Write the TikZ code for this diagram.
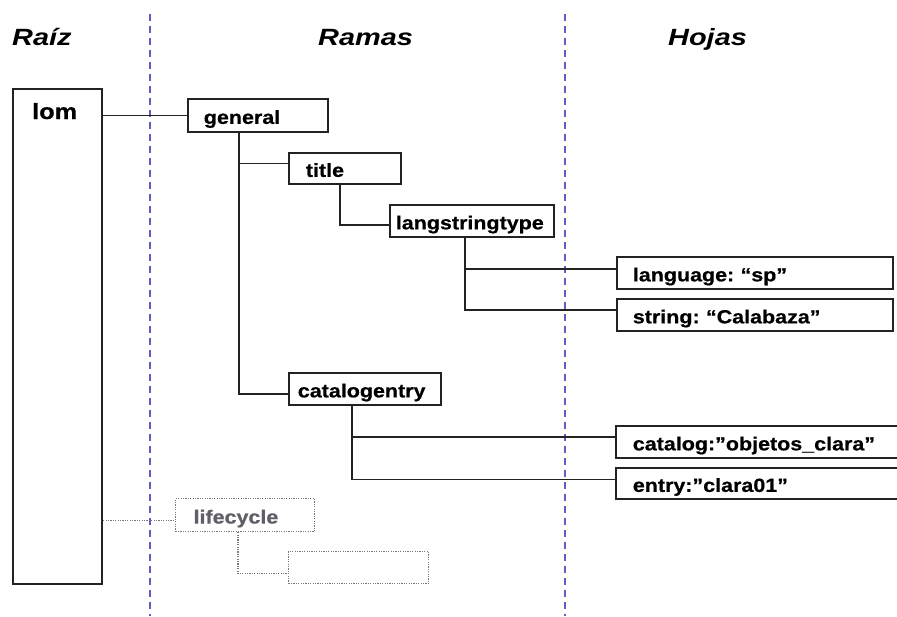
\documentclass[tikz,border=0pt]{standalone}
\usepackage{fontspec}
\setmainfont{Liberation Sans}
\newfontfamily\boxfont[FakeStretch=1.13, BoldFeatures={FakeBold=0.6}]{Liberation Sans}
\newfontfamily\rootfont[FakeStretch=1.15, BoldFeatures={FakeBold=0.6}]{Liberation Sans}
\newfontfamily\headfont[FakeStretch=1.23]{Liberation Sans}
\frenchspacing
\definecolor{divider}{RGB}{95,95,195}
\definecolor{linecol}{RGB}{35,35,35}
\definecolor{ghost}{RGB}{120,120,125}
\definecolor{ghosttext}{RGB}{95,95,105}
\tikzset{
  heading/.style={anchor=base west, inner sep=0pt, font=\headfont\fontsize{23.5}{26}\selectfont\bfseries\itshape},
  tag/.style={draw=linecol, line width=1.7pt, rectangle, anchor=north west, align=left,
    font=\boxfont\fontsize{19}{21}\selectfont\bfseries, text height=19pt, text depth=2pt, inner ysep=0pt},
  ghostbox/.style={tag, draw=ghost, line width=1.1pt, dash pattern=on 1.2pt off 1.2pt, text=ghosttext},
  link/.style={draw=linecol, line width=1.7pt},
  ghostlink/.style={draw=ghost, line width=1.1pt, dash pattern=on 1.2pt off 1.2pt},
  divline/.style={draw=divider, line width=1.5pt, dash pattern=on 7pt off 5pt}
}
\begin{document}
\begin{tikzpicture}[x=1pt,y=-1pt]
\useasboundingbox (0,0) rectangle (897,616);
\clip (0,0) rectangle (897,616);
\fill[white] (0,0) rectangle (897,616);

% column dividers
\coordinate (d1t) at (150,14);
\coordinate (d1b) at (150,616);
\coordinate (d2t) at (565,14);
\coordinate (d2b) at (565,616);
\draw[divline] (d1t) -- (d1b);
\draw[divline] (d2t) -- (d2b);

% column headings
\node[heading] (hraiz) at (12,45) {Raíz};
\node[heading] (hramas) at (318,45) {Ramas};
\node[heading] (hhojas) at (668,45) {Hojas};

% root
\node[draw=linecol, line width=2.2pt, anchor=north west, minimum width=89pt, minimum height=495pt, inner sep=0pt] (lom) at (12,88) {};
\node[anchor=base west, inner sep=0pt, font=\rootfont\fontsize{22}{24}\selectfont\bfseries] (lomtext) at (32,119) {lom};

% branches
\node[tag, inner xsep=16pt, text width=108pt, minimum height=33pt] (general) at (187,98) {general};
\node[tag, inner xsep=17pt, text width=78pt, minimum height=31pt] (title) at (288,152) {title};
\node[tag, inner xsep=6pt, text width=152pt, minimum height=32pt] (langst) at (389,204) {langstringtype};
\node[tag, inner xsep=9pt, text width=134pt, minimum height=32pt] (catent) at (288,372) {catalogentry};

% leaves
\node[tag, inner xsep=16pt, text width=244pt, minimum height=32pt] (language) at (616,256) {language: “sp”};
\node[tag, inner xsep=16pt, text width=244pt, minimum height=32pt] (string) at (616,298) {string: “Calabaza”};
\node[tag, inner xsep=17pt, text width=256pt, minimum height=32pt] (catalog) at (615,425) {catalog:”objetos\_clara”};
\node[tag, inner xsep=17pt, text width=256pt, minimum height=31pt] (entry) at (615,467) {entry:”clara01”};

% faded branch
\node[ghostbox, inner xsep=18pt, text width=103pt, minimum height=33pt] (lifecycle) at (175,498) {lifecycle};
\node[ghostbox, inner xsep=10pt, text width=120pt, minimum height=32pt] (empty) at (288,551) {};

% connectors
\draw[link] (lom.east |- general.west) -- (general.west);
\draw[link] ([xshift=52pt]general.south west) |- ([yshift=5pt]title.west);
\draw[link] ([xshift=52pt]general.south west) |- ([yshift=-5pt]catent.west);
\draw[link] ([xshift=52pt]title.south west) |- ([yshift=-4pt]langst.west);
\draw[link] ([xshift=76pt]langst.south west) |- ([yshift=4pt]language.west);
\draw[link] ([xshift=76pt]langst.south west) |- ([yshift=5pt]string.west);
\draw[link] ([xshift=64pt]catent.south west) |- ([yshift=5pt]catalog.west);
\draw[link] ([xshift=64pt]catent.south west) |- ([yshift=4pt]entry.west);
\draw[ghostlink] ([yshift=-5pt]lom.east |- lifecycle.west) -- ([yshift=-5pt]lifecycle.west);
\draw[ghostlink] ([xshift=63pt]lifecycle.south west) |- ([yshift=-6pt]empty.west);
\end{tikzpicture}
\end{document}
